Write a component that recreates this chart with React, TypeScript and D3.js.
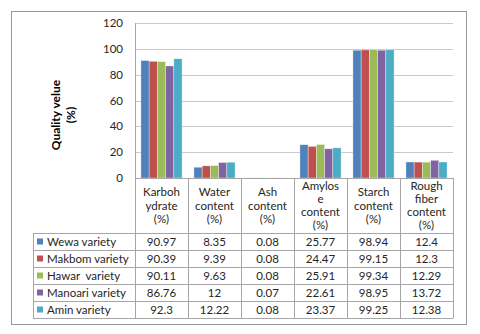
import React from 'react';
import * as d3 from 'd3';

const categories = [
  ['Karboh', 'ydrate', '(%)'],
  ['Water', 'content', '(%)'],
  ['Ash', 'content', '(%)'],
  ['Amylos', 'e', 'content', '(%)'],
  ['Starch', 'content', '(%)'],
  ['Rough', 'fiber', 'content', '(%)'],
];

const varieties = ['Wewa variety', 'Makbom variety', 'Hawar  variety', 'Manoari variety', 'Amin variety'];
const colors = ['#4F81BD', '#C0504D', '#9BBB59', '#8064A2', '#4BACC6'];

const wewa = [90.97, 8.35, 0.08, 25.77, 98.94, 12.4];
const makbom = [90.39, 9.39, 0.08, 24.47, 99.15, 12.3];
const hawar = [90.11, 9.63, 0.08, 25.91, 99.34, 12.29];
const manoari = [86.76, 12, 0.07, 22.61, 98.95, 13.72];
const amin = [92.3, 12.22, 0.08, 23.37, 99.25, 12.38];
const series = [wewa, makbom, hawar, manoari, amin];

const yTicks = [0, 20, 40, 60, 80, 100, 120];

const font = 'Lato, "Open Sans", sans-serif';

export default function App() {
  const left = 135, right = 453, top = 23, bottom = 178;
  const headerBottom = 233;
  const rowH = 17;
  const legendLeft = 33;
  const tableBottom = headerBottom + rowH * varieties.length;

  const x = d3.scaleBand<number>().domain(d3.range(categories.length)).range([left, right]).paddingInner(0).paddingOuter(0);
  const inner = d3.scaleBand<number>().domain(d3.range(varieties.length)).range([0, x.bandwidth()]).paddingOuter(0.72).paddingInner(0);
  const y = d3.scaleLinear().domain([0, 120]).range([bottom, top]);

  const grid = '#c8c8c8';
  const tableLine = '#a6a6a6';
  const ink = '#262626';

  return (
    <svg width={480} height={334} style={{ position: 'absolute', left: 0, top: 0, background: '#fff' }}>
      <rect x={11.5} y={11.5} width={455} height={313} fill="#fff" stroke="#9a9a9a" strokeWidth={1} />
      {yTicks.map((t) => (
        <g key={t}>
          {t > 0 && <line x1={left} x2={right} y1={Math.round(y(t)) + 0.5} y2={Math.round(y(t)) + 0.5} stroke={grid} />}
          <text x={123} y={y(t)} dy="0.35em" textAnchor="end" fontFamily={font} fontSize={11.5} fill={ink}>{t}</text>
        </g>
      ))}
      <text transform={`translate(${60},${115}) rotate(-90)`} textAnchor="middle" fontFamily={font} fontSize={12} fontWeight="bold" fill="#000">
        <tspan x={0} dy={0}>Quality velue</tspan>
        <tspan x={0} dy={15}>(%)</tspan>
      </text>
      {series.map((vals, si) => (
        <g key={si}>
          {vals.map((v, ci) => (
            <rect key={ci}
              x={(x(ci) as number) + (inner(si) as number)}
              y={y(v)}
              width={inner.bandwidth()}
              height={bottom - y(v)}
              fill={colors[si]}
              stroke="#ffffff" strokeOpacity={0.6} strokeWidth={0.6} />
          ))}
        </g>
      ))}
      {/* table */}
      <line x1={left + 0.5} x2={left + 0.5} y1={top} y2={tableBottom} stroke={tableLine} />
      <line x1={left} x2={right} y1={bottom + 0.5} y2={bottom + 0.5} stroke={tableLine} />
      {d3.range(categories.length).map((ci) => (
        <line key={ci} x1={(x(ci) as number) + x.bandwidth() + 0.5} x2={(x(ci) as number) + x.bandwidth() + 0.5} y1={bottom} y2={tableBottom} stroke={tableLine} />
      ))}
      <line x1={legendLeft + 0.5} x2={legendLeft + 0.5} y1={headerBottom} y2={tableBottom} stroke={tableLine} />
      {d3.range(varieties.length + 1).map((ri) => (
        <line key={ri} x1={legendLeft} x2={right} y1={headerBottom + ri * rowH + 0.5} y2={headerBottom + ri * rowH + 0.5} stroke={tableLine} />
      ))}
      {categories.map((lines, ci) => {
        const cx = (x(ci) as number) + x.bandwidth() / 2;
        const lh = 13.2;
        const mid = (bottom + headerBottom) / 2;
        const start = mid - ((lines.length - 1) * lh) / 2;
        return (
          <text key={ci} textAnchor="middle" fontFamily={font} fontSize={11.5} fill={ink}>
            {lines.map((l, li) => (
              <tspan key={li} x={cx} y={start + li * lh} dy="0.35em">{l}</tspan>
            ))}
          </text>
        );
      })}
      {varieties.map((name, ri) => {
        const cy = headerBottom + ri * rowH + rowH / 2;
        return (
          <g key={name}>
            <rect x={37} y={cy - 3} width={6} height={6} fill={colors[ri]} />
            <text x={47} y={cy} dy="0.35em" fontFamily={font} fontSize={11.5} fill={ink} style={{ whiteSpace: 'pre' }}>{name}</text>
            {series[ri].map((v, ci) => (
              <text key={ci} x={(x(ci) as number) + x.bandwidth() / 2} y={cy} dy="0.35em" textAnchor="middle" fontFamily={font} fontSize={11.5} fill={ink}>{v}</text>
            ))}
          </g>
        );
      })}
    </svg>
  );
}
